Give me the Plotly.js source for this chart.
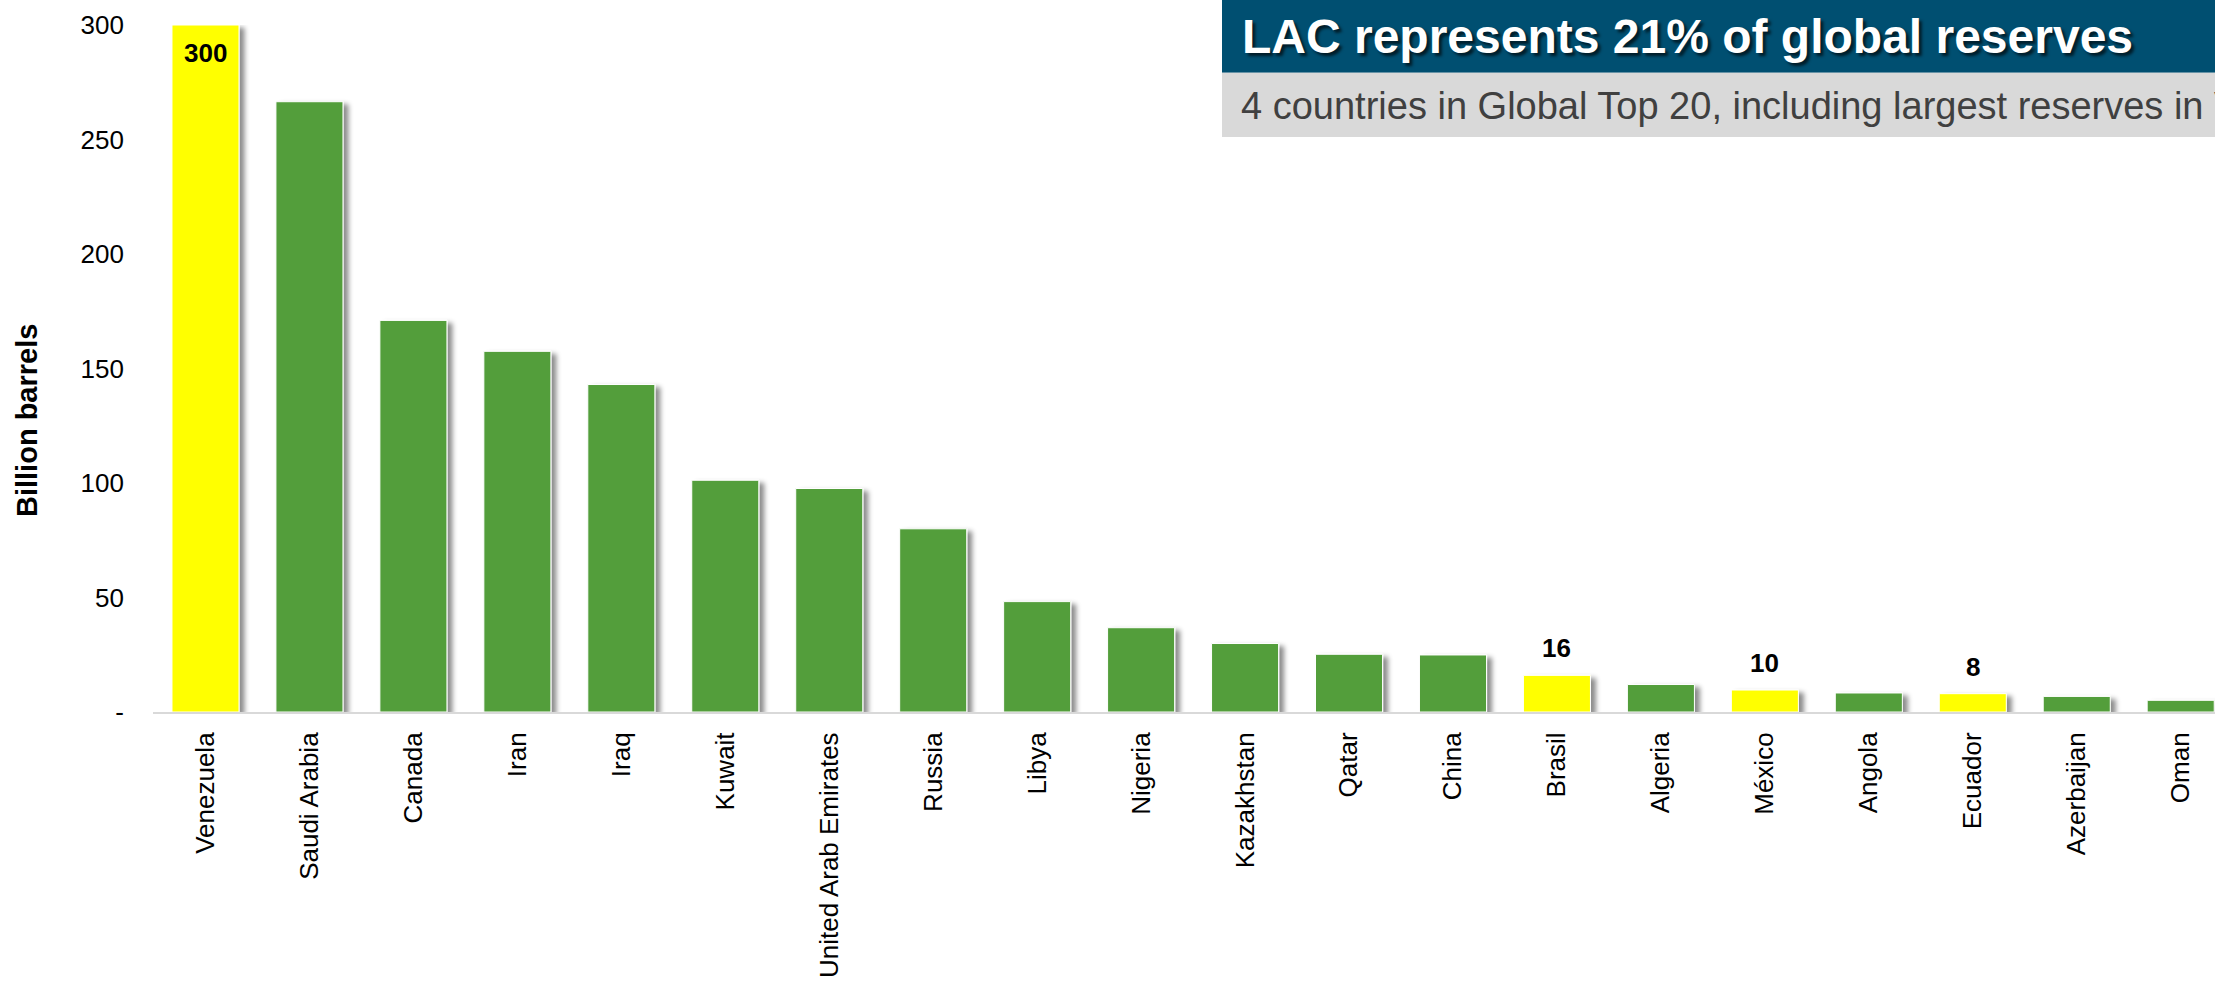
<!DOCTYPE html>
<html>
<head>
<meta charset="utf-8">
<script src="https://cdn.plot.ly/plotly-3.0.1.min.js"></script>
<style>
  html, body { margin: 0; padding: 0; background: #ffffff; }
  #chart { width: 2215px; height: 982px; }
</style>
</head>
<body>
<div id="chart"></div>
<script>
// ---- data ----
const countries = ['Venezuela','Saudi Arabia','Canada','Iran','Iraq','Kuwait','United Arab Emirates','Russia','Libya','Nigeria','Kazakhstan','Qatar','China','Brasil','Algeria','México','Angola','Ecuador','Azerbaijan','Oman'];
const reserves  = [300, 266.5, 171, 157.5, 143, 101.2, 97.6, 80, 48.2, 36.8, 29.9, 25.2, 24.9, 16, 12, 9.6, 8.3, 8, 6.8, 5.1];
const isLAC     = [1,0,0,0,0,0,0,0,0,0,0,0,0,1,0,1,0,1,0,0];
const yTickVals = [0, 50, 100, 150, 200, 250, 300];
const yTickText = ['-', '50', '100', '150', '200', '250', '300'];
const yAxisTitle = 'Billion barrels';
const headline = 'LAC represents 21% of global reserves';
const subline  = '4 countries in Global Top 20, including largest reserves in Venezuela';

// ---- styling / layout geometry ----
const W = 2215, H = 982;
const mL = 153, mR = 0, mT = 25, mB = 270;
const plotW = W - mL - mR, plotH = H - mT - mB;
const px = x => (x - mL) / plotW;          // pixel -> paper x
const py = y => (H - mB - y) / plotH;      // pixel -> paper y
const GREEN = '#529E3A', YELLOW = '#FFFF00';
const FONT = '"Liberation Sans", Arial, sans-serif';

const colors = isLAC.map(f => f ? YELLOW : GREEN);

const trace = {
  type: 'bar',
  x: countries,
  y: reserves,
  marker: { color: colors, line: { color: '#ffffff', width: 1 } },
  hoverinfo: 'none'
};

const annotations = [];
countries.forEach((c, i) => {
  if (!isLAC[i]) return;
  const inside = reserves[i] >= 290;
  annotations.push({
    x: c, y: reserves[i], xref: 'x', yref: 'y',
    text: '<b>' + Math.round(reserves[i]) + '</b>',
    showarrow: false, xanchor: 'center', yanchor: 'middle',
    yshift: inside ? -28 : 27,
    font: { family: FONT, size: 26, color: '#000000' }
  });
});

// y-axis title
annotations.push({
  xref: 'paper', yref: 'paper', x: px(27), y: py(421),
  text: '<b>' + yAxisTitle + '</b>', textangle: -90, showarrow: false,
  xanchor: 'center', yanchor: 'middle',
  font: { family: FONT, size: 29, color: '#000000' }
});
// headline
annotations.push({
  xref: 'paper', yref: 'paper', x: px(1240), y: py(36),
  text: '<b>' + headline + '</b>', showarrow: false,
  xanchor: 'left', yanchor: 'middle',
  font: { family: FONT, size: 48, color: '#ffffff', shadow: '3px 3px 3px rgba(0,0,0,0.65)' }
});
// subline
annotations.push({
  xref: 'paper', yref: 'paper', x: px(1239), y: py(106),
  text: subline, showarrow: false,
  xanchor: 'left', yanchor: 'middle',
  font: { family: FONT, size: 38, color: '#404040' }
});

const shapes = [
  { type: 'rect', xref: 'paper', yref: 'paper', x0: px(1222), x1: px(W + 20), y0: py(0) + 0.01, y1: py(72.7),
    fillcolor: '#004F71', line: { width: 0 }, layer: 'above' },
  { type: 'rect', xref: 'paper', yref: 'paper', x0: px(1222), x1: px(W + 20), y0: py(72.7), y1: py(137),
    fillcolor: '#D9D9D9', line: { width: 0 }, layer: 'above' }
];

const layout = {
  width: W, height: H,
  margin: { l: mL, r: mR, t: mT, b: mB, pad: 0 },
  paper_bgcolor: '#ffffff', plot_bgcolor: '#ffffff',
  showlegend: false,
  bargap: 0.355,
  font: { family: FONT, color: '#000000' },
  xaxis: {
    type: 'category',
    range: [-0.505, 19.33],
    tickangle: -90,
    tickfont: { family: FONT, size: 26, color: '#000000' },
    showline: true, linecolor: '#D9D9D9', linewidth: 2,
    showgrid: false, zeroline: false, ticks: '',
    ticklabelstandoff: 8,
    fixedrange: true
  },
  yaxis: {
    range: [0, 300],
    tickmode: 'array', tickvals: yTickVals, ticktext: yTickText,
    tickfont: { family: FONT, size: 26, color: '#000000' },
    showline: false, showgrid: false, zeroline: false, ticks: '',
    ticklabelstandoff: 28,
    fixedrange: true
  },
  shapes: shapes,
  annotations: annotations
};

Plotly.newPlot('chart', [trace], layout, { staticPlot: true, displayModeBar: false }).then(() => {
  const svg = document.querySelector('#chart .main-svg');
  const NS = 'http://www.w3.org/2000/svg';
  let defs = svg.querySelector('defs');
  if (!defs) { defs = document.createElementNS(NS, 'defs'); svg.insertBefore(defs, svg.firstChild); }
  const f = document.createElementNS(NS, 'filter');
  f.setAttribute('id', 'barshadow');
  f.setAttribute('filterUnits', 'userSpaceOnUse');
  f.setAttribute('x', '-3000'); f.setAttribute('y', '-3000');
  f.setAttribute('width', '8000'); f.setAttribute('height', '8000');
  const ds = document.createElementNS(NS, 'feDropShadow');
  ds.setAttribute('dx', '5'); ds.setAttribute('dy', '3');
  ds.setAttribute('stdDeviation', '2.5');
  ds.setAttribute('flood-color', '#000000');
  ds.setAttribute('flood-opacity', '0.45');
  f.appendChild(ds);
  defs.appendChild(f);
  document.querySelectorAll('#chart .barlayer .point path').forEach(p => {
    p.setAttribute('filter', 'url(#barshadow)');
  });
});
</script>
</body>
</html>
